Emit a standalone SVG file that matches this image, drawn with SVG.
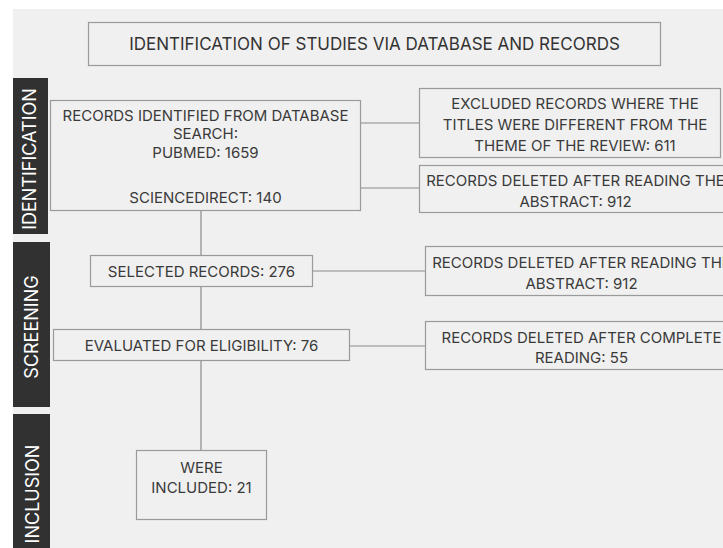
<svg xmlns="http://www.w3.org/2000/svg" width="723" height="548" viewBox="0 0 723 548">
<style>
.box{fill:#f0f0f0;stroke:#9a9a9a;stroke-width:1.2}
.bar{fill:#313131}
.t{font-family:Inter,"Open Sans","Liberation Sans",sans-serif;font-size:15px;fill:#3a3a3a;text-anchor:middle;dominant-baseline:central}
.title{font-family:Inter,"Liberation Sans",sans-serif;font-size:17px;fill:#333;text-anchor:middle;dominant-baseline:central}
.side{font-family:Inter,"Liberation Sans",sans-serif;font-size:18px;fill:#ffffff;text-anchor:middle;dominant-baseline:central}
.c{stroke:#8a8a8a;stroke-width:1.2;fill:none}
</style>
<rect x="0" y="0" width="723" height="548" fill="#ffffff"/>
<rect x="13" y="9" width="710" height="539" fill="#f0f0f0"/>

<g id="title">
<rect class="box" x="88.5" y="22.5" width="572" height="43"/>
<text class="title" x="374.5" y="44">IDENTIFICATION OF STUDIES VIA DATABASE AND RECORDS</text>
</g>

<g id="bar-identification">
<rect class="bar" x="13" y="78" width="35" height="156"/>
<text class="side" transform="translate(29,159) rotate(-90)">IDENTIFICATION</text>
</g>
<g id="bar-screening">
<rect class="bar" x="13" y="242" width="37" height="165"/>
<text class="side" transform="translate(31,327) rotate(-90)">SCREENING</text>
</g>
<g id="bar-inclusion">
<rect class="bar" x="13" y="414" width="37" height="134"/>
<text class="side" transform="translate(32,494) rotate(-90)">INCLUSION</text>
</g>

<g id="connectors">
<line class="c" x1="201" y1="211" x2="201" y2="255"/>
<line class="c" x1="201" y1="287" x2="201" y2="329"/>
<line class="c" x1="201" y1="361" x2="201" y2="450"/>
<line class="c" x1="361" y1="123" x2="419" y2="123"/>
<line class="c" x1="361" y1="188" x2="419" y2="188"/>
<line class="c" x1="312" y1="271" x2="425" y2="271"/>
<line class="c" x1="350" y1="346" x2="425" y2="346"/>
</g>

<g id="records-identified">
<rect class="box" x="50.5" y="100.5" width="310" height="110"/>
<text class="t" x="205.5" y="115">RECORDS IDENTIFIED FROM DATABASE</text>
<text class="t" x="205.5" y="133.5">SEARCH:</text>
<text class="t" x="205.5" y="152">PUBMED: 1659</text>
<text class="t" x="205.5" y="197">SCIENCEDIRECT: 140</text>
</g>

<g id="excluded-titles">
<rect class="box" x="419.5" y="88.5" width="301" height="69"/>
<text class="t" x="575" y="103">EXCLUDED RECORDS WHERE THE</text>
<text class="t" x="575" y="124">TITLES WERE DIFFERENT FROM THE</text>
<text class="t" x="575" y="145">THEME OF THE REVIEW: 611</text>
</g>

<g id="deleted-abstract-1">
<rect class="box" x="419.5" y="165.5" width="312" height="47"/>
<text class="t" x="575.5" y="180">RECORDS DELETED AFTER READING THE</text>
<text class="t" x="575.5" y="201">ABSTRACT: 912</text>
</g>

<g id="selected">
<rect class="box" x="90.5" y="255.5" width="222" height="31"/>
<text class="t" x="201.5" y="271.5">SELECTED RECORDS: 276</text>
</g>

<g id="deleted-abstract-2">
<rect class="box" x="425.5" y="246.5" width="312" height="49"/>
<text class="t" x="581.5" y="262">RECORDS DELETED AFTER READING THE</text>
<text class="t" x="581.5" y="283">ABSTRACT: 912</text>
</g>

<g id="evaluated">
<rect class="box" x="53.5" y="329.5" width="296" height="31"/>
<text class="t" x="201.5" y="345.5">EVALUATED FOR ELIGIBILITY: 76</text>
</g>

<g id="deleted-complete">
<rect class="box" x="425.5" y="321.5" width="312" height="48"/>
<text class="t" x="581.5" y="337">RECORDS DELETED AFTER COMPLETE</text>
<text class="t" x="581.5" y="357">READING: 55</text>
</g>

<g id="included">
<rect class="box" x="136.5" y="450.5" width="130" height="69"/>
<text class="t" x="201.5" y="467">WERE</text>
<text class="t" x="201.5" y="487">INCLUDED: 21</text>
</g>
</svg>
